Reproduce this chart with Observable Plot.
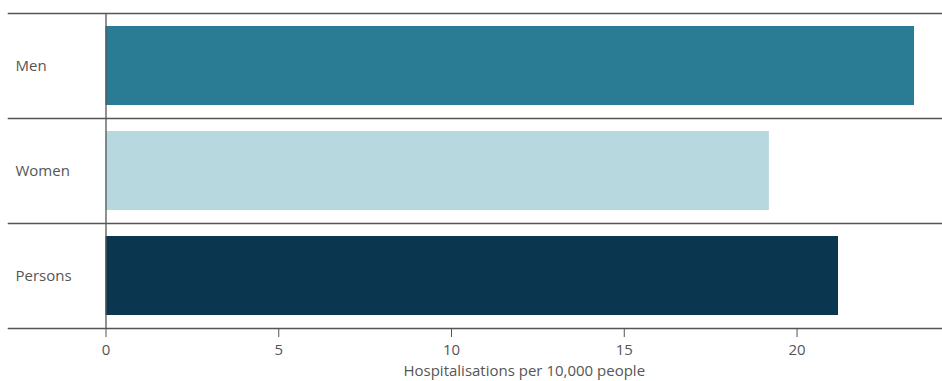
<!DOCTYPE html>
<html>
<head>
<meta charset="utf-8">
<script src="https://cdn.jsdelivr.net/npm/d3@7"></script>
<script src="https://cdn.jsdelivr.net/npm/@observablehq/plot@0.6"></script>
<style>
  html, body { margin: 0; padding: 0; background: #fff; }
  #chart svg { display: block; }
</style>
</head>
<body>
<div id="chart"></div>
<script>
const categories = ["Men", "Women", "Persons"];
const values = [23.4, 19.2, 21.2];
const colors = ["#2a7b94", "#b8d8e0", "#0a3650"];
const xTicks = [0, 5, 10, 15, 20];
const xLabel = "Hospitalisations per 10,000 people";

const data = categories.map((c, i) => ({category: c, value: values[i], color: colors[i]}));

const xMax = 24.21;
const xLeftExt = -2.83;

const chart = Plot.plot({
  width: 942,
  height: 381,
  marginLeft: 105.5,
  marginRight: 0,
  marginTop: 13,
  marginBottom: 53,
  style: {fontFamily: "Open Sans", fontSize: "15px", color: "#555", background: "#fff"},
  x: {domain: [0, xMax], ticks: xTicks, label: xLabel, labelArrow: "none"},
  y: {domain: categories, padding: 0, label: null},
  marks: [
    Plot.barX(data, {y: "category", x: "value", fill: "color", insetTop: 13, insetBottom: 13}),
    Plot.ruleY(categories, {y: d => d, dy: -52.5, x1: xLeftExt, x2: xMax, stroke: "#555", strokeWidth: 1.3}),
    Plot.ruleY([categories[categories.length - 1]], {y: d => d, dy: 52.5, x1: xLeftExt, x2: xMax, stroke: "#555", strokeWidth: 1.3}),
    Plot.ruleX([0], {stroke: "#555", strokeWidth: 1.3}),
    Plot.axisX({ticks: xTicks, tickSize: 9, tickPadding: 7, stroke: "#555", fill: "#555", fontSize: 15, label: xLabel, labelAnchor: "center", labelOffset: 47, labelArrow: "none"}),
    Plot.axisY({tickSize: 0, tickPadding: 0, textAnchor: "start", dx: -90.5, fill: "#555", fontSize: 15, label: null})
  ]
});
document.getElementById("chart").appendChild(chart);
</script>
</body>
</html>
